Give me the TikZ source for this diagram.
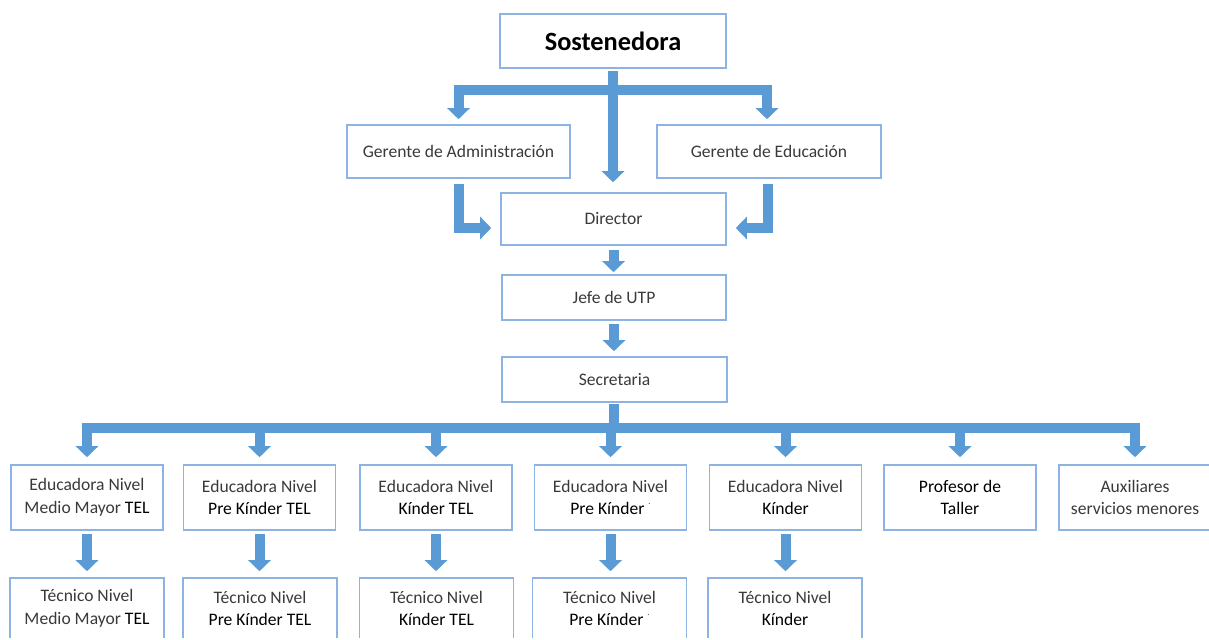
\documentclass[tikz,border=0pt]{standalone}
\usepackage{fontspec}
\setmainfont{Carlito}
\usetikzlibrary{arrows.meta}

\definecolor{bordeazul}{RGB}{141,179,226}
\definecolor{flechaazul}{RGB}{91,155,213}
\definecolor{textogris}{RGB}{58,58,58}

\tikzset{
    caja/.style={draw=bordeazul, line width=0.9pt, fill=white, text=textogris,
        font=\fontsize{10}{13}\selectfont, align=center, inner sep=0pt},
    edu/.style={caja, minimum width=3.04cm, minimum height=1.3cm},
    tec/.style={caja, minimum width=3.08cm, minimum height=1.22cm},
    barra/.style={draw=flechaazul, line width=0.2cm},
    flecha/.style={barra, -{Triangle[length=0.22cm, width=0.44cm]}},
}
\newcommand{\negro}[1]{\textcolor{black}{#1}}
\newcommand{\punto}{\raisebox{0.6em}{\tiny .}}

\begin{document}
\begin{tikzpicture}[x=0.02cm, y=-0.02cm]
    \useasboundingbox (0, 0) rectangle (1209, 639);
    \clip (0, 0) rectangle (1209, 637);

    % upper part
    \node [caja, minimum width=4.52cm, minimum height=1.08cm, text=black,
        font=\fontsize{15}{17}\selectfont\bfseries] (sos) at (613, 41) {Sostenedora};
    \node [caja, minimum width=4.46cm, minimum height=1.06cm] (ga) at (458.5, 151.5)
        {Gerente de Administración};
    \node [caja, minimum width=4.48cm, minimum height=1.06cm] (ge) at (769, 151.5)
        {Gerente de Educación};
    \node [caja, minimum width=4.5cm, minimum height=1.04cm] (dir) at (613.5, 219) {Director};
    \node [caja, minimum width=4.48cm, minimum height=0.9cm] (jefe) at (614, 297.5) {Jefe de UTP};
    \node [caja, minimum width=4.5cm, minimum height=0.9cm] (sec) at (614.5, 379.5) {Secretaria};

    % educadoras
    \node [edu] (e1) at (87, 497.5)    {Educadora Nivel\\Medio Mayor \negro{TEL}};
    \node [edu] (e2) at (259.5, 497.5) {Educadora Nivel\\\negro{Pre Kínder TEL}};
    \node [edu] (e3) at (436, 497.5)   {Educadora Nivel\\\negro{Kínder TEL}};
    \node [edu] (e4) at (610.5, 497.5) {Educadora Nivel\\\negro{Pre Kínder} \punto};
    \node [edu] (e5) at (785.5, 497.5) {Educadora Nivel\\\negro{Kínder}};
    \node [edu] (e6) at (960, 497.5)   {\negro{Profesor de}\\\negro{Taller}};
    \node [edu] (e7) at (1135, 497.5)  {Auxiliares\\servicios menores};

    % tecnicos
    \node [tec] (t1) at (87, 608.5)    {Técnico Nivel\\Medio Mayor \negro{TEL}};
    \node [tec] (t2) at (260, 608.5)   {Técnico Nivel\\\negro{Pre Kínder TEL}};
    \node [tec] (t3) at (436.5, 608.5) {Técnico Nivel\\\negro{Kínder TEL}};
    \node [tec] (t4) at (609.5, 608.5) {Técnico Nivel\\\negro{Pre Kínder} \punto};
    \node [tec] (t5) at (785, 608.5)   {Técnico Nivel\\\negro{Kínder}};

    \coordinate (tb) at (613, 90);
    \coordinate (bb) at (614, 428);

    % arrows
    \draw [flecha, shorten <=0.04cm, shorten >=0.2cm] (sos.south) -- (sos.south |- dir.north);
    \draw [flecha, shorten >=0.1cm] (tb) -| (ga.north);
    \draw [flecha, shorten >=0.1cm] (tb) -| ([xshift=-0.04cm]ge.north);
    \draw [flecha, shorten <=0.1cm, shorten >=0.18cm]
        (ga.south) |- ([yshift=-0.18cm]dir.west);
    \draw [flecha, shorten <=0.1cm, shorten >=0.18cm]
        ([xshift=-0.02cm]ge.south) |- ([yshift=-0.18cm]dir.east);
    \draw [flecha, shorten <=0.08cm, shorten >=0.04cm] (dir.south) -- (dir.south |- jefe.north);
    \draw [flecha, shorten <=0.06cm, shorten >=0.1cm] (jefe.south) -- (jefe.south |- sec.north);

    \draw [barra, shorten <=0.02cm] (bb |- sec.south) -- (bb);
    \draw [flecha, shorten >=0.14cm] (bb) -| (e1.north);
    \draw [flecha, shorten >=0.14cm] (bb) -| (e7.north);
    \foreach \i in {2,...,6}
        \draw [flecha, shorten >=0.14cm] (e\i.north |- bb) -- (e\i.north);
    \foreach \i in {1,...,5}
        \draw [flecha, shorten <=0.06cm, shorten >=0.12cm] (e\i.south) -- (e\i.south |- t\i.north);
\end{tikzpicture}
\end{document}
